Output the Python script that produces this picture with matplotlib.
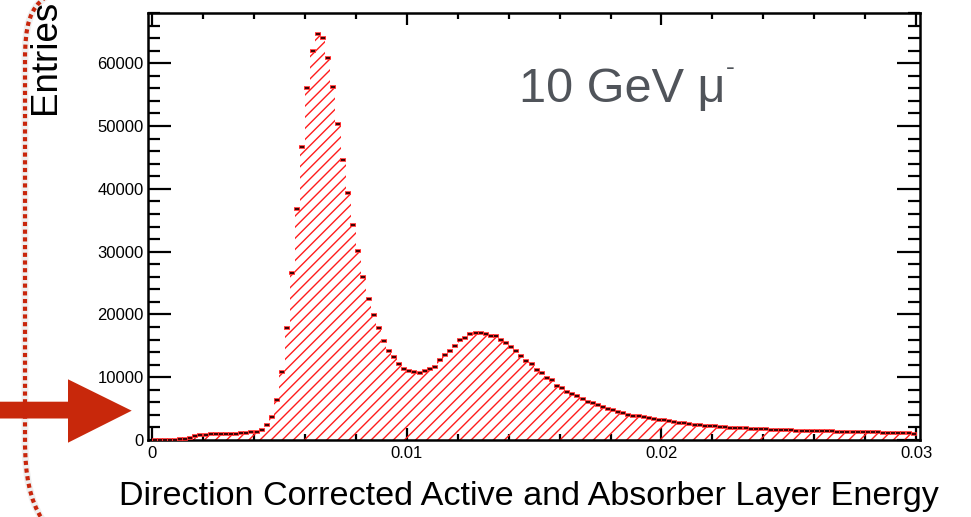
import matplotlib
matplotlib.use('Agg')
import matplotlib.pyplot as plt
import numpy as np
from matplotlib.path import Path
from matplotlib.patches import PathPatch, Polygon
from matplotlib.ticker import MultipleLocator

plt.rcParams['font.family'] = ['Liberation Sans', 'DejaVu Sans']
plt.rcParams['hatch.linewidth'] = 1.0

# ---------------- data ----------------
bin_low = 0.0
bin_high = 0.03
n_bins = 150

entries = [
    0, 0, 0, 10, 30, 80, 200, 380, 600, 750,
    850, 900, 920, 940, 950, 970, 1000, 1050, 1120, 1220,
    1350, 1650, 2390, 3700, 6370, 10870, 17780, 26540, 36780, 46600,
    56000, 61900, 64600, 64050, 60760, 56150, 50260, 44580, 39270, 34230,
    30090, 25900, 22500, 19900, 17880, 15760, 14170, 13160, 12050, 11250,
    10980, 10780, 10620, 10940, 11350, 11670, 12690, 13480, 14170, 15010,
    15870, 16290, 16880, 16980, 16980, 16830, 16560, 16560, 15920, 15490,
    14760, 14220, 13370, 12630, 12050, 11140, 10620, 9920, 9550, 8650,
    8230, 7590, 7320, 7000, 6480, 6100, 5940, 5600, 5200, 4900,
    4700, 4450, 4250, 4050, 3900, 3750, 3600, 3480, 3350, 3230,
    3120, 3000, 2880, 2760, 2650, 2560, 2460, 2380, 2300, 2230,
    2160, 2100, 2040, 1990, 1940, 1890, 1850, 1800, 1760, 1720,
    1690, 1650, 1620, 1590, 1560, 1530, 1510, 1480, 1460, 1440,
    1420, 1400, 1380, 1370, 1350, 1330, 1310, 1290, 1280, 1260,
    1240, 1220, 1210, 1190, 1170, 1150, 1130, 1100, 1060, 980,
]

x_ticks = [0, 0.01, 0.02, 0.03]
x_tick_labels = ['0', '0.01', '0.02', '0.03']
y_ticks = [0, 10000, 20000, 30000, 40000, 50000, 60000]
y_tick_labels = ['0', '10000', '20000', '30000', '40000', '50000', '60000']

x_label = 'Direction Corrected Active and Absorber Layer Energy'
y_label = 'Entries'
annotation = '10 GeV μ'
annotation_sup = '-'

# ---------------- figure ----------------
W, H = 971, 517
fig = plt.figure(figsize=(W / 100, H / 100), dpi=100)


def fx(px):
    return px / W


def fy(py):
    return 1 - py / H


ax = fig.add_axes([fx(148), fy(440), (920 - 148) / W, (440 - 13) / H])

edges = np.linspace(bin_low, bin_high, n_bins + 1)
centers = 0.5 * (edges[:-1] + edges[1:])
vals = np.array(entries, dtype=float)

ax.fill_between(edges, np.append(vals, vals[-1]), step='post',
                facecolor='none', edgecolor='#ff1c1c', hatch='///',
                linewidth=0, zorder=2)
ax.plot(centers, vals, ls='none', marker='_', ms=5, mew=2.6,
        color='#ff2a2a', zorder=3)
ax.plot(centers, vals, ls='none', marker='_', ms=3.4, mew=1.3,
        color='#2a0000', zorder=4)

ax.set_xlim(-0.00016, 0.03015)
ax.set_ylim(0, 68000)

ax.set_xticks(x_ticks)
ax.set_xticklabels(x_tick_labels)
ax.set_yticks(y_ticks)
ax.set_yticklabels(y_tick_labels)
ax.xaxis.set_minor_locator(MultipleLocator(0.002))
ax.yaxis.set_minor_locator(MultipleLocator(2000))

ax.tick_params(which='both', direction='in', top=True, right=True,
               width=1.6, color='black', labelsize=12)
ax.tick_params(axis='y', which='major', length=16.5, pad=3)
ax.tick_params(axis='y', which='minor', length=8.6)
ax.tick_params(axis='x', which='major', length=8.6, pad=4)
ax.tick_params(axis='x', which='minor', length=4.3)
for s in ax.spines.values():
    s.set_linewidth(1.8)

# axis titles
fig.text(fx(55), fy(57), y_label, rotation=90, rotation_mode='anchor',
         ha='center', va='baseline', fontsize=26.5, color='black')
fig.text(fx(529), fy(505), x_label, ha='center', va='baseline',
         fontsize=24.6, color='black')

# annotation
fig.text(fx(519), fy(101.7), annotation, ha='left', va='baseline',
         fontsize=35, color='#50545a')
fig.text(fx(726), fy(75), annotation_sup, ha='left', va='baseline',
         fontsize=19, color='#50545a')

# slide decorations: red arrow and dotted bracket
arrow_px = [(0, 401.7), (68, 401.7), (68, 379.3), (131.7, 410.7),
            (68, 442.7), (68, 418.5), (0, 418.5)]
fig.patches.append(Polygon([(fx(a), fy(b)) for a, b in arrow_px],
                           closed=True, facecolor='#c8280b',
                           edgecolor='none', transform=fig.transFigure,
                           figure=fig, zorder=1))

br_px = [(46, -3), (30, 8), (25, 25), (25, 60), (25, 440),
         (25, 476), (30, 500), (42, 519)]
codes = [Path.MOVETO, Path.CURVE4, Path.CURVE4, Path.CURVE4, Path.LINETO,
         Path.CURVE4, Path.CURVE4, Path.CURVE4]
br_path = Path([(fx(a), fy(b)) for a, b in br_px], codes)
fig.patches.append(PathPatch(br_path, facecolor='none', edgecolor='#efefef',
                             linewidth=5, transform=fig.transFigure,
                             figure=fig, zorder=0.5))
fig.patches.append(PathPatch(br_path, facecolor='none', edgecolor='#c8260c',
                             linewidth=3.0, linestyle=(0, (1.0, 0.85)),
                             capstyle='butt', transform=fig.transFigure,
                             figure=fig, zorder=1.5))

fig.savefig('out.png', dpi=100)
